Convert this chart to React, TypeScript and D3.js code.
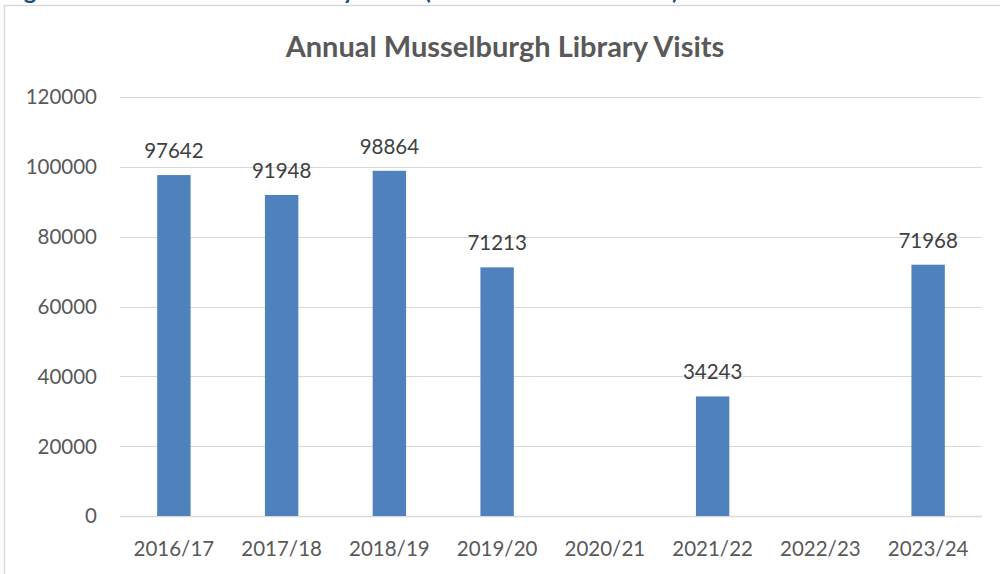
import React from "react";
import * as d3 from "d3";

const categories = ["2016/17", "2017/18", "2018/19", "2019/20", "2020/21", "2021/22", "2022/23", "2023/24"];
const visits: (number | null)[] = [97642, 91948, 98864, 71213, null, 34243, null, 71968];
const yTicks = [0, 20000, 40000, 60000, 80000, 100000, 120000];
const chartTitle = "Annual Musselburgh Library Visits";
const pageHeading = "Figure 3: Total Number of Library Visits (from 2016 to 2023/24)";

const W = 1000;
const H = 574;
const plot = { left: 120, right: 982, top: 97, bottom: 516 };
const FONT = "Lato, 'Open Sans', sans-serif";

export default function App() {
  const x = d3.scaleBand<string>().domain(categories).range([plot.left, plot.right]).padding(0);
  const y = d3.scaleLinear().domain([0, 120000]).range([plot.bottom, plot.top]);
  const barW = x.step() * 0.31;

  return (
    <svg
      width={W}
      height={H}
      style={{ position: "absolute", left: 0, top: 0, background: "#fff" }}
      fontFamily={FONT}
    >
      <rect x={0} y={0} width={W} height={H} fill="#fff" />
      {/* cut-off document heading above the chart */}
      <text x={4} y={-1} fontSize={24} fontWeight={700} fill="#1F4E79">
        {pageHeading}
      </text>
      {/* chart frame */}
      <path d={`M4.5,${H} V5.5 H${W}`} fill="none" stroke="#d9d9d9" strokeWidth={1.5} />
      {/* title */}
      <text x={505} y={57} textAnchor="middle" fontSize={29} fontWeight={700} fill="#595959">
        {chartTitle}
      </text>
      {/* gridlines */}
      {yTicks.map((t) => (
        <g key={t}>
          <line
            x1={plot.left}
            x2={plot.right}
            y1={Math.round(y(t)) + 0.5}
            y2={Math.round(y(t)) + 0.5}
            stroke="#d9d9d9"
            strokeWidth={t === 0 ? 1.5 : 1}
          />
          <text x={97} y={y(t)} dy="0.36em" textAnchor="end" fontSize={20.5} fill="#595959">
            {t}
          </text>
        </g>
      ))}
      {/* bars */}
      {categories.map((c, i) => {
        const v = visits[i];
        if (v == null) return null;
        const cx = (x(c) as number) + x.bandwidth() / 2;
        return (
          <g key={c}>
            <rect x={cx - barW / 2} y={y(v)} width={barW} height={y(0) - y(v)} fill="#4F81BD" />
            <text x={cx} y={y(v) - 17} textAnchor="middle" fontSize={20.5} fill="#404040">
              {v}
            </text>
          </g>
        );
      })}
      {/* x labels */}
      {categories.map((c) => (
        <text
          key={c}
          x={(x(c) as number) + x.bandwidth() / 2}
          y={556}
          textAnchor="middle"
          fontSize={20.5}
          fill="#595959"
        >
          {c}
        </text>
      ))}
    </svg>
  );
}
